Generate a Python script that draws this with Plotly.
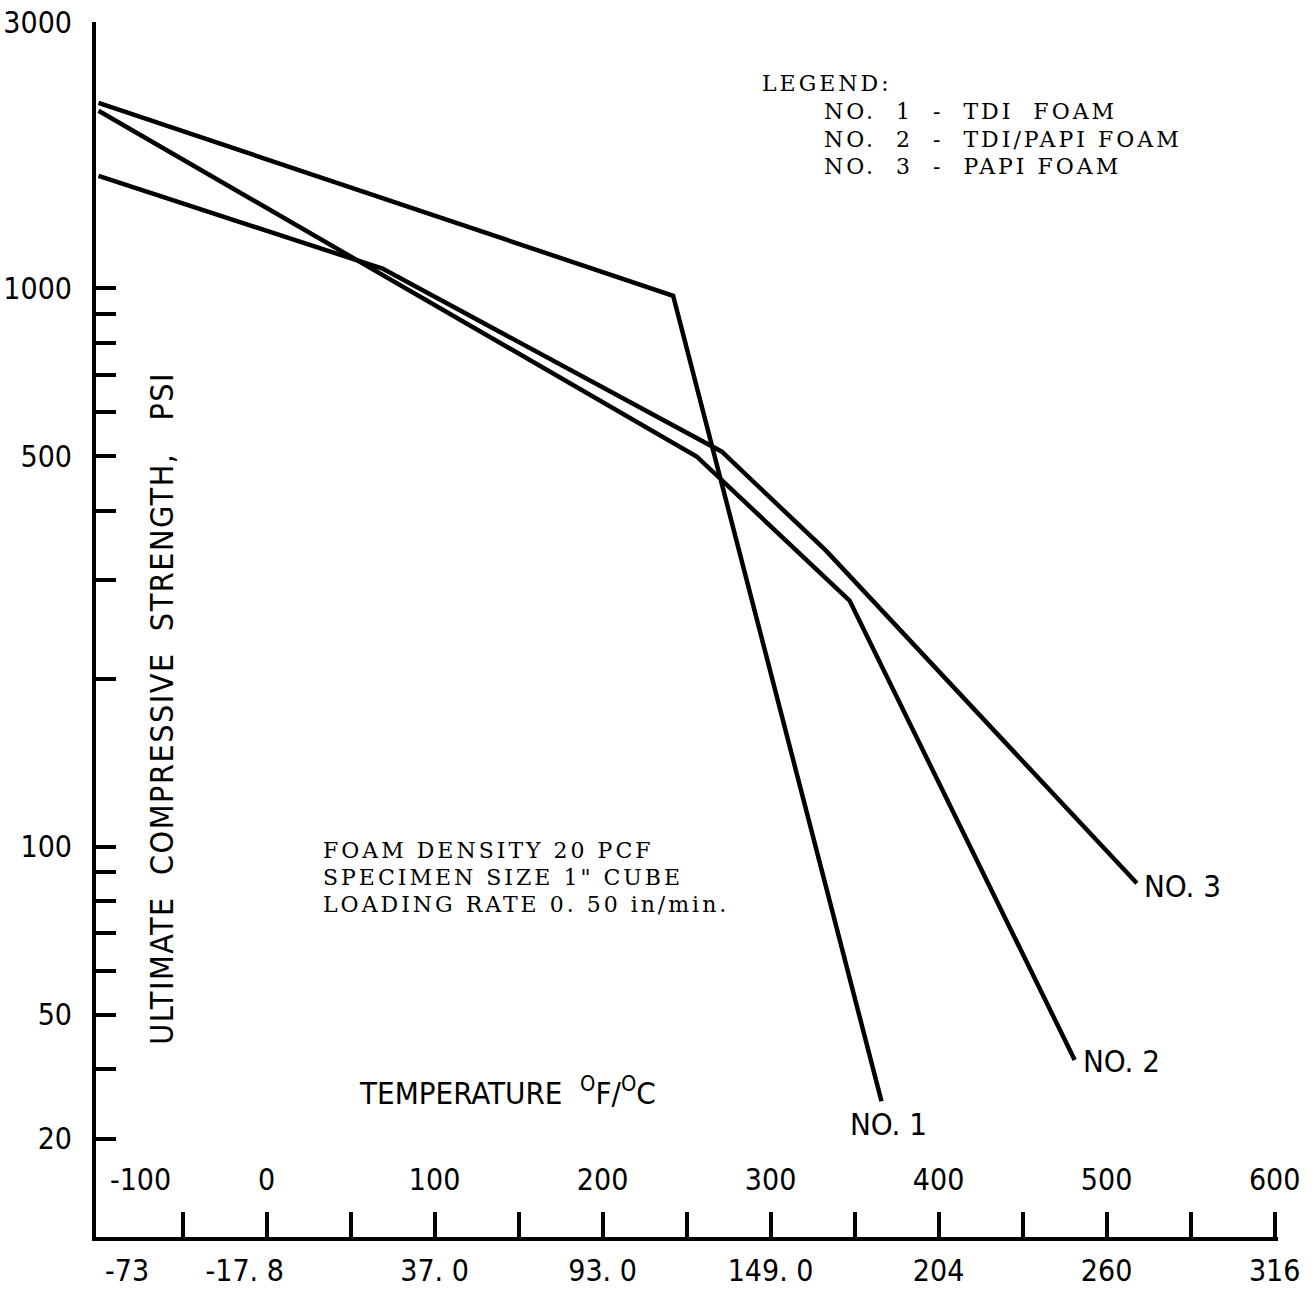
import math
import plotly.graph_objects as go

# ---------------- data ----------------
TEMP_F_1 = [-100, 242, 366]
PSI_1 = [2150, 970, 35]

TEMP_F_2 = [-100, 256, 347, 481]
PSI_2 = [2080, 500, 276, 41.5]

TEMP_F_3 = [-100, 69, 271, 333, 518]
PSI_3 = [1590, 1085, 510, 339, 86]

SERIES_NAMES = ["NO. 1", "NO. 2", "NO. 3"]

Y_TICK_VALUES = [3000, 1000, 900, 800, 700, 600, 500, 400, 300, 200,
                 100, 90, 80, 70, 60, 50, 40, 30]
Y_TICK_TEXT = ["3000", "1000", "", "", "", "", "500", "", "", "",
               "100", "", "", "", "", "50", "", "20"]

X_TICK_MARKS_F = [-50, 0, 50, 100, 150, 200, 250, 300, 350, 400, 450, 500, 550, 600]
F_TICK_TEXT = ["-100", "0", "100", "200", "300", "400", "500", "600"]
F_LABEL_POS = [-75, 0, 100, 200, 300, 400, 500, 600]
C_TICK_TEXT = ["-73", "-17. 8", "37. 0", "93. 0", "149. 0", "204", "260", "316"]
C_LABEL_POS = [-83, -13, 100, 200, 300, 400, 500, 600]

X_RANGE = [-101.5, 602]
Y_RANGE = [math.log10(20), math.log10(3000)]

SANS = "DejaVu Sans Condensed, Liberation Sans Narrow, DejaVu Sans, sans-serif"
SERIF = "DejaVu Serif, Liberation Serif, serif"

fig = go.Figure()
for xs, ys, nm in [(TEMP_F_1, PSI_1, SERIES_NAMES[0]),
                   (TEMP_F_2, PSI_2, SERIES_NAMES[1]),
                   (TEMP_F_3, PSI_3, SERIES_NAMES[2])]:
    fig.add_trace(go.Scatter(x=xs, y=ys, mode="lines", name=nm,
                             line=dict(color="black", width=4.5),
                             showlegend=False, hoverinfo="skip"))

# end labels
END_LABELS = [("NO. 1", 346, 31.9), ("NO. 2", 485, 41.4), ("NO. 3", 521, 85)]
annotations = []
for txt, xv, yv in END_LABELS:
    annotations.append(dict(x=xv, y=math.log10(yv), xref="x", yref="y", text=txt,
                            showarrow=False, xanchor="left", yanchor="middle",
                            font=dict(family=SANS, size=31, color="black")))

# legend block
LEGEND_LINES = ["NO.  1  -  TDI  FOAM", "NO.  2  -  TDI/PAPI FOAM", "NO.  3  -  PAPI FOAM"]
annotations.append(dict(x=293.5, y=3.367, xref="x", yref="y", text="LEGEND:",
                        showarrow=False, xanchor="left", yanchor="middle",
                        font=dict(family=SERIF, size=22, color="black")))
for i, t in enumerate(LEGEND_LINES):
    annotations.append(dict(x=330.4, y=3.317 - 0.0495 * i, xref="x", yref="y", text=t,
                            showarrow=False, xanchor="left", yanchor="middle",
                            font=dict(family=SERIF, size=22, color="black")))

NOTE_LINES = ["FOAM DENSITY 20 PCF", "SPECIMEN SIZE 1\" CUBE", "LOADING RATE 0. 50 in/min."]
for i, t in enumerate(NOTE_LINES):
    annotations.append(dict(x=32.7, y=1.993 - 0.0484 * i, xref="x", yref="y", text=t,
                            showarrow=False, xanchor="left", yanchor="middle",
                            font=dict(family=SERIF, size=22, color="black")))

annotations.append(dict(x=54, y=1.563, xref="x", yref="y",
                        text="TEMPERATURE  <sup>O</sup>F/<sup>O</sup>C",
                        showarrow=False, xanchor="left", yanchor="middle",
                        font=dict(family=SANS, size=31, color="black")))

annotations.append(dict(x=-62.5, y=2.247, xref="x", yref="y",
                        text="ULTIMATE  COMPRESSIVE  STRENGTH,   PSI",
                        textangle=-90, showarrow=False, xanchor="center", yanchor="middle",
                        font=dict(family=SANS, size=32, color="black")))

fig.update_layout(
    width=1312, height=1293,
    margin=dict(l=96, r=34, t=22, b=56, autoexpand=False),
    paper_bgcolor="white", plot_bgcolor="white",
    showlegend=False,
    annotations=annotations,
    xaxis=dict(range=X_RANGE, showline=True, linewidth=4, linecolor="black",
               ticks="", tickmode="array", tickvals=C_LABEL_POS, ticktext=C_TICK_TEXT,
               tickfont=dict(family=SANS, size=30, color="black"),
               ticklabelstandoff=4, automargin=False,
               showgrid=False, zeroline=False, anchor="y"),
    xaxis2=dict(range=X_RANGE, overlaying="x", anchor="y", side="bottom",
                tickmode="array", tickvals=X_TICK_MARKS_F, ticks="inside",
                ticklen=25, tickwidth=4, tickcolor="black", automargin=False,
                showticklabels=False, showline=False, showgrid=False, zeroline=False),
    xaxis3=dict(range=X_RANGE, overlaying="x", anchor="y", side="bottom",
                tickmode="array", tickvals=F_LABEL_POS, ticktext=F_TICK_TEXT,
                ticks="", ticklabelposition="inside", ticklabelstandoff=38,
                ticklabeloverflow="allow", automargin=False,
                tickfont=dict(family=SANS, size=30, color="black"),
                showline=False, showgrid=False, zeroline=False),
    yaxis=dict(type="log", range=Y_RANGE, showline=True, linewidth=4, linecolor="black",
               tickmode="array", tickvals=Y_TICK_VALUES, ticktext=Y_TICK_TEXT,
               ticks="inside", ticklen=20, tickwidth=4, tickcolor="black",
               tickfont=dict(family=SANS, size=30, color="black"),
               ticklabelstandoff=14, automargin=False,
               showgrid=False, zeroline=False),
)

# invisible traces to activate overlay axes
fig.add_trace(go.Scatter(x=[X_RANGE[0]], y=[1000], xaxis="x2", yaxis="y", mode="markers",
                         marker=dict(opacity=0), showlegend=False, hoverinfo="skip"))
fig.add_trace(go.Scatter(x=[X_RANGE[0]], y=[1000], xaxis="x3", yaxis="y", mode="markers",
                         marker=dict(opacity=0), showlegend=False, hoverinfo="skip"))

POST = """
(function(){
  document.documentElement.style.margin = '0';
  document.documentElement.style.padding = '0';
  document.body.style.margin = '0';
  document.body.style.padding = '0';
  function spread(t, ls, keepLeft){
    if (t.getAttribute('data-ls') === ls) { return; }
    var b0 = t.getBBox();
    t.style.letterSpacing = ls;
    t.setAttribute('data-ls', ls);
    if (keepLeft) {
      var b1 = t.getBBox();
      var dx = b0.x - b1.x;
      var x = parseFloat(t.getAttribute('x') || '0');
      t.setAttribute('x', x + dx);
    }
  }
  function apply(){
    document.querySelectorAll('text.annotation-text').forEach(function(t){
      var s = t.textContent || '';
      if (s.indexOf('ULTIMATE') === 0) { spread(t, '1.5px', false); }
      else if (s.indexOf('NO.  ') === 0 || s.indexOf('LEGEND') === 0 ||
               s.indexOf('FOAM DENSITY') === 0 || s.indexOf('SPECIMEN') === 0 ||
               s.indexOf('LOADING') === 0) { spread(t, '3px', true); }
    });
  }
  apply();
  var gd = document.querySelector('.plotly-graph-div');
  if (gd && gd.on) { gd.on('plotly_afterplot', apply); }
})();
"""

fig.write_html("out.html", post_script=POST, config={"displayModeBar": False})
